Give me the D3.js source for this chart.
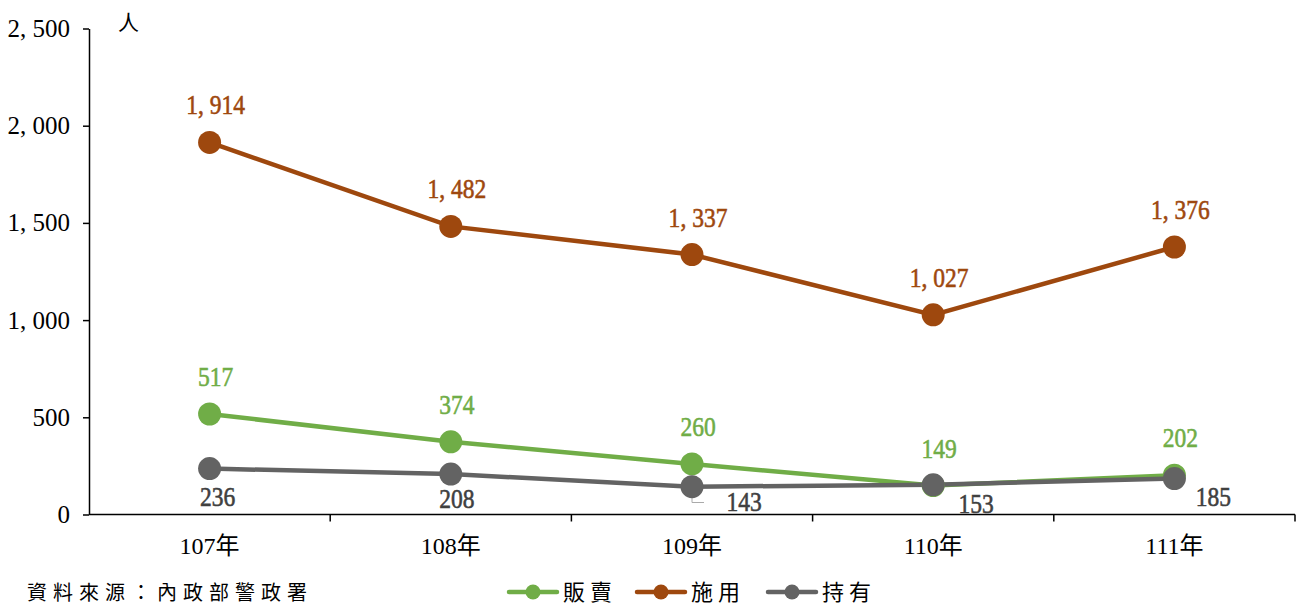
<!DOCTYPE html>
<html>
<head>
<meta charset="utf-8">
<script src="https://cdn.jsdelivr.net/npm/d3@7"></script>
<style>
  body { margin: 0; background: #fff; }
  text { font-family: "Liberation Serif", "Noto Sans CJK TC", serif; }
  .cjk { font-family: "Noto Sans CJK TC", sans-serif; }
</style>
</head>
<body>
<div id="chart"></div>
<script>
(function() {
  var years = ["107年", "108年", "109年", "110年", "111年"];
  var sellVals = [517, 374, 260, 149, 202];     // 販賣
  var useVals = [1914, 1482, 1337, 1027, 1376]; // 施用
  var holdVals = [236, 208, 143, 153, 185];     // 持有
  var yTicks = [0, 500, 1000, 1500, 2000, 2500];

  // label nudges for the 持有 numbers (they sit under the line)
  var holdShift = [[8, 37], [6, 34], [52, 24], [43, 28], [39, 27]];

  var width = 1301, height = 606;
  var margin = { top: 28.5, left: 89, right: 6, bottom: 91.5 };

  var svg = d3.select("#chart")
    .append("svg")
    .attr("width", width)
    .attr("height", height);

  svg.append("rect").attr("width", width).attr("height", height).attr("fill", "#fff");

  var x = d3.scalePoint()
    .domain(years)
    .range([margin.left, width - margin.right])
    .padding(0.5);

  var y = d3.scaleLinear()
    .domain([0, 2500])
    .range([height - margin.bottom, margin.top]);

  var fmt = function(v) { return d3.format(",")(v).replace(",", ", "); };

  // y axis
  var yAxis = svg.append("g")
    .attr("transform", "translate(" + margin.left + ",0)")
    .call(d3.axisLeft(y).tickValues(yTicks).tickSize(6).tickSizeOuter(0).tickPadding(13).tickFormat(fmt));
  yAxis.select(".domain").attr("stroke", "#000").attr("stroke-width", 1.5);
  yAxis.selectAll(".tick line").attr("stroke", "#000").attr("stroke-width", 1.5);
  yAxis.selectAll(".tick text")
    .attr("font-family", "Liberation Serif")
    .style("font-size", "25px")
    .attr("fill", "#000");

  // x axis line + boundary ticks
  var step = x.step();
  var bounds = d3.range(years.length + 1).map(function(i) { return margin.left + i * step; });
  var xg = svg.append("g");
  xg.append("line")
    .attr("x1", margin.left).attr("x2", width - margin.right)
    .attr("y1", y(0)).attr("y2", y(0))
    .attr("stroke", "#000").attr("stroke-width", 1.5);
  xg.selectAll(".btick")
    .data(bounds.slice(1))
    .enter().append("line")
    .attr("x1", function(d) { return d; }).attr("x2", function(d) { return d; })
    .attr("y1", y(0)).attr("y2", y(0) + 7)
    .attr("stroke", "#000").attr("stroke-width", 1.5);
  xg.selectAll(".xlab")
    .data(years)
    .enter().append("text")
    .attr("x", function(d) { return x(d); })
    .attr("y", y(0) + 39)
    .attr("text-anchor", "middle")
    .style("font-size", "24px")
    .text(function(d) { return d; });

  // unit label
  svg.append("text")
    .attr("class", "cjk")
    .attr("x", 118).attr("y", 30)
    .style("font-size", "21px")
    .text("人");

  var series = [
    { name: "販賣", values: sellVals, color: "#70AD47" },
    { name: "施用", values: useVals, color: "#9E480E" },
    { name: "持有", values: holdVals, color: "#636363" }
  ];

  var line = d3.line()
    .x(function(d, i) { return x(years[i]); })
    .y(function(d) { return y(d); });

  series.forEach(function(s) {
    svg.append("path")
      .datum(s.values)
      .attr("fill", "none")
      .attr("stroke", s.color)
      .attr("stroke-width", 4.5)
      .attr("d", line);
  });

  // leader line for 143
  svg.append("path")
    .attr("d", "M" + x(years[2]) + "," + (y(holdVals[2]) + 3) + "V" + (y(0) - 12) + "h12")
    .attr("fill", "none")
    .attr("stroke", "#aaa")
    .attr("stroke-width", 1);

  series.forEach(function(s) {
    svg.selectAll(".pt-" + s.name)
      .data(s.values)
      .enter().append("circle")
      .attr("cx", function(d, i) { return x(years[i]); })
      .attr("cy", function(d) { return y(d); })
      .attr("r", 11.5)
      .attr("fill", s.color);
  });

  // data labels (condensed serif, slightly heavier than the ticks)
  var labelColor = { "販賣": "#70AD47", "施用": "#9E480E", "持有": "#404040" };
  series.forEach(function(s) {
    svg.selectAll(".lab-" + s.name)
      .data(s.values)
      .enter().append("text")
      .attr("transform", function(d, i) {
        var dx = s.name === "持有" ? holdShift[i][0] : 6;
        var dy = s.name === "持有" ? holdShift[i][1] : -28;
        return "translate(" + (x(years[i]) + dx) + "," + (y(d) + dy) + ") scale(0.84,1)";
      })
      .attr("text-anchor", "middle")
      .attr("fill", labelColor[s.name])
      .attr("stroke", labelColor[s.name])
      .attr("stroke-width", 0.6)
      .style("font-size", "28px")
      .text(function(d) { return fmt(d); });
  });

  // legend
  var legendX = [533, 661, 792];
  var legend = svg.selectAll(".legend")
    .data(series)
    .enter().append("g")
    .attr("transform", function(d, i) { return "translate(" + legendX[i] + ",592)"; });
  legend.append("line")
    .attr("x1", -24).attr("x2", 24)
    .attr("stroke", function(d) { return d.color; })
    .attr("stroke-width", 4.5)
    .attr("stroke-linecap", "round");
  legend.append("circle")
    .attr("r", 7.5)
    .attr("fill", function(d) { return d.color; });
  legend.append("text")
    .attr("class", "cjk")
    .attr("x", 30)
    .attr("dy", "0.35em")
    .style("font-size", "22px")
    .style("letter-spacing", "5px")
    .attr("fill", "#000")
    .text(function(d) { return d.name; });

  // source note
  svg.append("text")
    .attr("class", "cjk")
    .attr("x", 27).attr("y", 600)
    .style("font-size", "20px")
    .style("letter-spacing", "6px")
    .attr("fill", "#000")
    .text("資料來源：內政部警政署");
})();
</script>
</body>
</html>
